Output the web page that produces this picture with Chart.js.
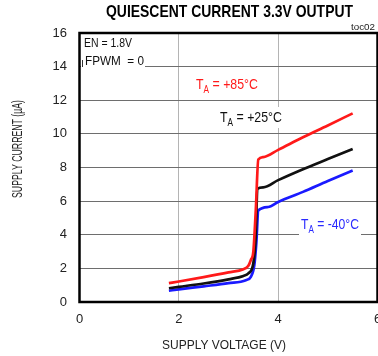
<!DOCTYPE html>
<html>
<head>
<meta charset="utf-8">
<script src="https://cdn.jsdelivr.net/npm/chart.js@4.4.1/dist/chart.umd.min.js"></script>
<style>
  html, body { margin: 0; padding: 0; background: #fff; overflow: hidden; }
  canvas { display: block; }
</style>
</head>
<body>
<canvas id="chart" width="400" height="356"></canvas>
<script>
// supply voltage (V) / supply current (uA)
const vHot = [1.8, 2.0, 2.5, 3.0, 3.3, 3.4, 3.45, 3.5, 3.55, 3.6, 3.7, 4.0, 4.5, 5.0, 5.5];
const iHot = [1.12, 1.22, 1.48, 1.76, 1.95, 2.15, 2.5, 3.0, 5.5, 8.47, 8.62, 9.05, 9.8, 10.5, 11.22];

const vRoom = [1.8, 2.0, 2.5, 3.0, 3.3, 3.4, 3.5, 3.55, 3.58, 3.7, 4.0, 4.5, 5.0, 5.5];
const iRoom = [0.82, 0.9, 1.1, 1.35, 1.55, 1.7, 2.3, 4.0, 6.73, 6.82, 7.25, 7.9, 8.5, 9.1];

const vCold = [1.8, 2.0, 2.5, 3.0, 3.35, 3.45, 3.52, 3.56, 3.6, 3.8, 4.0, 4.5, 5.0, 5.5];
const iCold = [0.67, 0.75, 0.93, 1.12, 1.3, 1.5, 2.2, 3.5, 5.44, 5.65, 5.95, 6.55, 7.2, 7.82];

const xTicks = [0, 2, 4, 6];
const yTicks = [0, 2, 4, 6, 8, 10, 12, 14, 16];

const FONT = "'Liberation Sans', Arial, sans-serif";

function pts(xs, ys) {
    return xs.map((x, i) => ({ x: x, y: ys[i] }));
}

// draws a run of text pieces squeezed to a given width
function drawRun(ctx, parts, x, y, width, color) {
    ctx.save();
    ctx.fillStyle = color;
    ctx.textBaseline = 'middle';
    ctx.textAlign = 'left';
    let natural = 0;
    parts.forEach(p => { ctx.font = p.font; natural += ctx.measureText(p.text).width; });
    ctx.translate(x, y);
    ctx.scale(width / natural, 1);
    let cx = 0;
    parts.forEach(p => {
        ctx.font = p.font;
        ctx.fillText(p.text, cx, p.dy || 0);
        cx += ctx.measureText(p.text).width;
    });
    ctx.restore();
}

function tempLabel(ctx, temp, x, y, width, color) {
    drawRun(ctx, [
        { text: 'T', font: '15px ' + FONT },
        { text: 'A', font: '10px ' + FONT, dy: 5 },
        { text: ' = ' + temp, font: '15px ' + FONT }
    ], x, y, width, color);
}

const notes = {
    id: 'notes',
    beforeDatasetsDraw(chart) {
        const ctx = chart.ctx;
        ctx.save();
        ctx.fillStyle = '#fff';
        ctx.fillRect(81, 35, 64, 32);
        ctx.fillRect(218, 107, 66, 21);
        ctx.fillRect(299, 214, 62, 22);
        ctx.restore();

        drawRun(ctx, [{ text: 'EN = 1.8V', font: '13px ' + FONT }], 84, 43.5, 48, '#111');
        drawRun(ctx, [{ text: 'FPWM  = 0', font: '13px ' + FONT }], 85, 61, 59, '#111');
        ctx.save();
        ctx.strokeStyle = '#333';
        ctx.lineWidth = 1;
        ctx.beginPath();
        ctx.moveTo(82.5, 60);
        ctx.lineTo(82.5, 67);
        ctx.stroke();
        ctx.restore();

        tempLabel(ctx, '+85°C', 196, 85, 62, '#ff1a1a');
        tempLabel(ctx, '+25°C', 220, 118, 62, '#111');
        tempLabel(ctx, '-40°C', 301, 225, 58, '#2a2aff');
    },
    afterDraw(chart) {
        const ctx = chart.ctx;
        const a = chart.chartArea;
        ctx.save();
        ctx.strokeStyle = '#000';
        ctx.lineWidth = 2.5;
        ctx.strokeRect(a.left, a.top, a.right - a.left, a.bottom - a.top);
        ctx.restore();

        drawRun(ctx, [{ text: 'QUIESCENT CURRENT 3.3V OUTPUT', font: 'bold 17px ' + FONT }], 106, 12, 247, '#000');
        drawRun(ctx, [{ text: 'toc02', font: '9px ' + FONT }], 351, 27.5, 24, '#222');
        drawRun(ctx, [{ text: 'SUPPLY VOLTAGE (V)', font: '13px ' + FONT }], 162, 345, 124, '#222');

        ctx.save();
        ctx.translate(18, 149);
        ctx.rotate(-Math.PI / 2);
        drawRun(ctx, [{ text: 'SUPPLY CURRENT (µA)', font: '14px ' + FONT }], -49, 0, 98, '#222');
        ctx.restore();
    }
};

new Chart(document.getElementById('chart'), {
    type: 'line',
    data: {
        datasets: [
            { label: 'TA = +85°C', data: pts(vHot, iHot), borderColor: '#ff1a1a' },
            { label: 'TA = +25°C', data: pts(vRoom, iRoom), borderColor: '#111111' },
            { label: 'TA = -40°C', data: pts(vCold, iCold), borderColor: '#1a1aff' }
        ]
    },
    options: {
        responsive: false,
        animation: false,
        layout: { padding: { left: 0, right: 22.5, top: 33, bottom: 0 } },
        elements: {
            point: { radius: 0 },
            line: { borderWidth: 2.7, cubicInterpolationMode: 'monotone' }
        },
        plugins: {
            legend: { display: false },
            tooltip: { enabled: false }
        },
        scales: {
            x: {
                type: 'linear',
                min: 0,
                max: 6,
                afterFit: s => { s.height = 54; },
                afterBuildTicks: s => { s.ticks = xTicks.map(v => ({ value: v })); },
                ticks: { padding: 10, color: '#222', font: { size: 13, family: FONT } },
                grid: {
                    drawTicks: false,
                    lineWidth: 1,
                    color: c => (c.tick && (c.tick.value === 0 || c.tick.value === 6)) ? 'rgba(0,0,0,0)' : '#b4b4b4'
                },
                border: { display: false }
            },
            y: {
                min: 0,
                max: 16,
                afterFit: s => { s.width = 79.5; },
                afterBuildTicks: s => { s.ticks = yTicks.map(v => ({ value: v })); },
                ticks: { padding: 12.5, color: '#222', font: { size: 13, family: FONT } },
                grid: {
                    drawTicks: false,
                    lineWidth: 1,
                    color: c => (c.tick && (c.tick.value === 0 || c.tick.value === 16)) ? 'rgba(0,0,0,0)' : '#6e6e6e'
                },
                border: { display: false }
            }
        }
    },
    plugins: [notes]
});
</script>
</body>
</html>
